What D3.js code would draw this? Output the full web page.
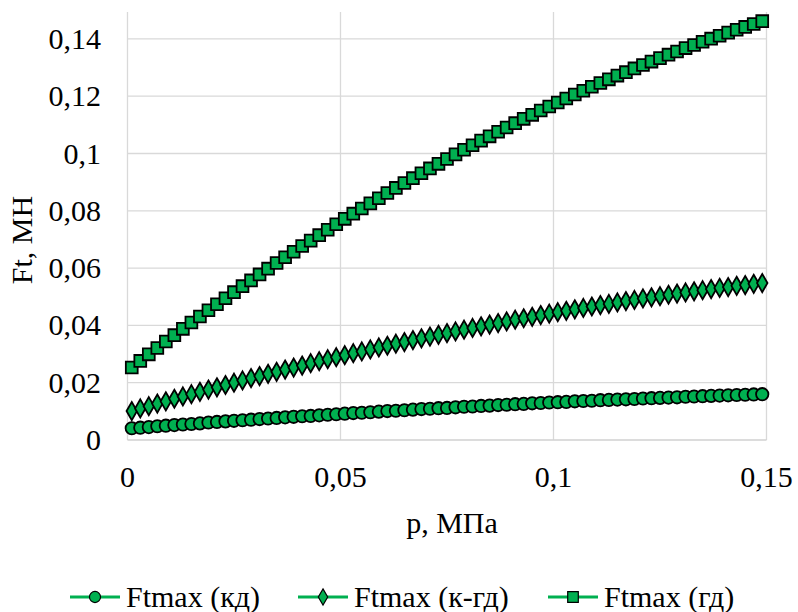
<!DOCTYPE html>
<html>
<head>
<meta charset="utf-8">
<script src="https://cdn.jsdelivr.net/npm/d3@7"></script>
</head>
<body style="margin:0">
<script>
// pressure p, MPa
const pValues = [
  0.001, 0.003, 0.005, 0.007, 0.009, 0.011, 0.013, 0.015, 0.017, 0.019,
  0.021, 0.023, 0.025, 0.027, 0.029, 0.031, 0.033, 0.035, 0.037, 0.039,
  0.041, 0.043, 0.045, 0.047, 0.049, 0.051, 0.053, 0.055, 0.057, 0.059,
  0.061, 0.063, 0.065, 0.067, 0.069, 0.071, 0.073, 0.075, 0.077, 0.079,
  0.081, 0.083, 0.085, 0.087, 0.089, 0.091, 0.093, 0.095, 0.097, 0.099,
  0.101, 0.103, 0.105, 0.107, 0.109, 0.111, 0.113, 0.115, 0.117, 0.119,
  0.121, 0.123, 0.125, 0.127, 0.129, 0.131, 0.133, 0.135, 0.137, 0.139,
  0.141, 0.143, 0.145, 0.147, 0.149
];

// Ftmax (кд)
const ftKd = [
  0.0041, 0.0043, 0.0045, 0.0048, 0.0050, 0.0052, 0.0054, 0.0056, 0.0058, 0.0061,
  0.0063, 0.0065, 0.0067, 0.0069, 0.0071, 0.0073, 0.0075, 0.0077, 0.0079, 0.0081,
  0.0083, 0.0084, 0.0086, 0.0088, 0.0090, 0.0092, 0.0094, 0.0095, 0.0097, 0.0099,
  0.0101, 0.0102, 0.0104, 0.0106, 0.0108, 0.0109, 0.0111, 0.0112, 0.0114, 0.0116,
  0.0117, 0.0119, 0.0120, 0.0122, 0.0123, 0.0125, 0.0126, 0.0128, 0.0129, 0.0131,
  0.0132, 0.0133, 0.0135, 0.0136, 0.0137, 0.0139, 0.0140, 0.0141, 0.0142, 0.0143,
  0.0145, 0.0146, 0.0147, 0.0148, 0.0149, 0.0151, 0.0152, 0.0153, 0.0154, 0.0155,
  0.0156, 0.0157, 0.0158, 0.0159, 0.0160
];

// Ftmax (к-гд)
const ftKgd = [
  0.0101, 0.0110, 0.0118, 0.0127, 0.0135, 0.0144, 0.0152, 0.0160, 0.0168, 0.0176,
  0.0184, 0.0192, 0.0200, 0.0208, 0.0216, 0.0223, 0.0231, 0.0238, 0.0246, 0.0253,
  0.0260, 0.0268, 0.0275, 0.0282, 0.0289, 0.0296, 0.0303, 0.0309, 0.0316, 0.0323,
  0.0329, 0.0336, 0.0342, 0.0349, 0.0355, 0.0361, 0.0367, 0.0373, 0.0379, 0.0385,
  0.0391, 0.0397, 0.0403, 0.0408, 0.0414, 0.0420, 0.0425, 0.0430, 0.0436, 0.0441,
  0.0446, 0.0451, 0.0456, 0.0461, 0.0466, 0.0471, 0.0475, 0.0480, 0.0485, 0.0489,
  0.0494, 0.0498, 0.0502, 0.0507, 0.0511, 0.0515, 0.0519, 0.0523, 0.0527, 0.0531,
  0.0534, 0.0538, 0.0541, 0.0545, 0.0548
];

// Ftmax (гд)
const ftGd = [
  0.0253, 0.0276, 0.0299, 0.0321, 0.0344, 0.0366, 0.0388, 0.0410, 0.0431, 0.0453,
  0.0474, 0.0495, 0.0516, 0.0537, 0.0557, 0.0578, 0.0598, 0.0618, 0.0638, 0.0657,
  0.0677, 0.0696, 0.0715, 0.0734, 0.0753, 0.0772, 0.0790, 0.0808, 0.0826, 0.0844,
  0.0862, 0.0880, 0.0897, 0.0914, 0.0931, 0.0948, 0.0964, 0.0981, 0.0997, 0.1013,
  0.1029, 0.1045, 0.1060, 0.1076, 0.1091, 0.1106, 0.1121, 0.1135, 0.1150, 0.1164,
  0.1178, 0.1192, 0.1206, 0.1219, 0.1233, 0.1246, 0.1259, 0.1272, 0.1284, 0.1297,
  0.1309, 0.1321, 0.1333, 0.1345, 0.1356, 0.1368, 0.1379, 0.1390, 0.1401, 0.1411,
  0.1422, 0.1432, 0.1442, 0.1452, 0.1462
];

const seriesNames = ["Ftmax (кд)", "Ftmax (к-гд)", "Ftmax (гд)"];
const seriesSymbols = ["circle", "diamond", "square"];
const xTicks = [0, 0.05, 0.1, 0.15];
const yTicks = [0, 0.02, 0.04, 0.06, 0.08, 0.1, 0.12, 0.14];

const width = 798, height = 612;
const margin = { left: 127.5, right: 31.5, top: 12, bottom: 172 };
const green = "#00b050";
const fmt = v => String(v).replace(".", ",");

const svg = d3.select("body").append("svg")
  .attr("width", width).attr("height", height);
svg.append("rect").attr("width", width).attr("height", height).attr("fill", "#fff");

// serif text helper
function label(sel) {
  return sel.style("font-family", `"Times New Roman"`)
    .attr("font-size", 30);
}

const x = d3.scaleLinear().domain([0, 0.15]).range([margin.left, width - margin.right]);
const y = d3.scaleLinear().domain([0, 0.1494]).range([height - margin.bottom, margin.top]);

// gridlines
svg.append("g").selectAll("line").data(yTicks.slice(1)).join("line")
  .attr("x1", x(0)).attr("x2", x(0.15))
  .attr("y1", d => y(d)).attr("y2", d => y(d))
  .attr("stroke", "#d9d9d9").attr("stroke-width", 1.3);
svg.append("g").selectAll("line").data(xTicks).join("line")
  .attr("x1", d => x(d)).attr("x2", d => x(d))
  .attr("y1", y(0)).attr("y2", margin.top)
  .attr("stroke", "#d9d9d9").attr("stroke-width", 1.3);
// bottom axis line
svg.append("line")
  .attr("x1", x(0)).attr("x2", x(0.15)).attr("y1", y(0)).attr("y2", y(0))
  .attr("stroke", "#d0d0d0").attr("stroke-width", 1.5);

// tick labels
yTicks.forEach(d => {
  svg.append("text").call(label)
    .attr("x", 101).attr("y", y(d) + 10).attr("text-anchor", "end")
    .text(fmt(d));
});
xTicks.forEach(d => {
  svg.append("text").call(label)
    .attr("x", x(d)).attr("y", 487).attr("text-anchor", "middle")
    .text(fmt(d));
});

// axis titles
svg.append("text").call(label)
  .attr("x", 452).attr("y", 533).attr("text-anchor", "middle").text("p, МПа");
svg.append("text").call(label)
  .attr("transform", "translate(32,240) rotate(-90)")
  .attr("text-anchor", "middle").text("Ft, МН");

// series
const symbolType = { circle: d3.symbolCircle, diamond: d3.symbolDiamond, square: d3.symbolSquare };
const symbolSize = { circle: 120, diamond: 95, square: 140 };
const allSeries = [ftKd, ftKgd, ftGd];

const line = d3.line().x(d => x(d[0])).y(d => y(d[1]));

allSeries.forEach((vals, s) => {
  const pts = pValues.map((p, i) => [p, vals[i]]);
  svg.append("path").datum(pts).attr("d", line)
    .attr("fill", "none").attr("stroke", green).attr("stroke-width", 3);
  const sym = d3.symbol().type(symbolType[seriesSymbols[s]]).size(symbolSize[seriesSymbols[s]]);
  svg.append("g").selectAll("path").data(pts).join("path")
    .attr("transform", d => `translate(${x(d[0])},${y(d[1])})`)
    .attr("d", sym)
    .attr("fill", green).attr("stroke", "#000").attr("stroke-width", 1.8);
});

// legend
const legendX = [70, 298, 548];
seriesNames.forEach((name, s) => {
  const lx = legendX[s], ly = 597;
  svg.append("line").attr("x1", lx).attr("x2", lx + 50).attr("y1", ly).attr("y2", ly)
    .attr("stroke", green).attr("stroke-width", 3);
  svg.append("path").attr("transform", `translate(${lx + 25},${ly})`)
    .attr("d", d3.symbol().type(symbolType[seriesSymbols[s]]).size(symbolSize[seriesSymbols[s]] * 0.8))
    .attr("fill", green).attr("stroke", "#000").attr("stroke-width", 1.2);
  svg.append("text").call(label)
    .attr("x", lx + 56).attr("y", ly + 10).text(name);
});
</script>
</body>
</html>
